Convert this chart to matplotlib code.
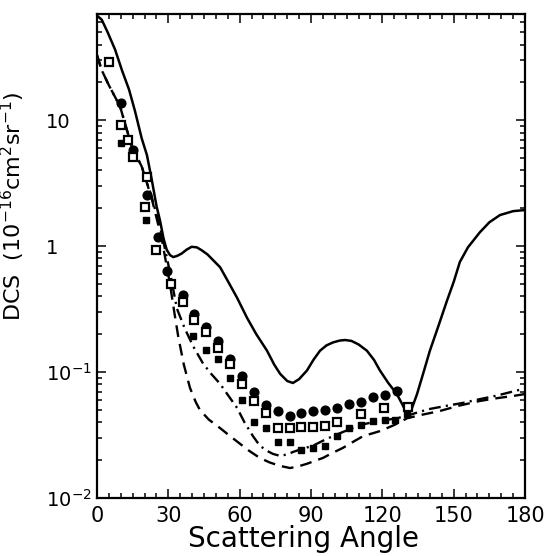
import matplotlib
matplotlib.use("Agg")
import matplotlib.pyplot as plt
from matplotlib.ticker import FixedLocator, MultipleLocator, LogLocator, NullFormatter

plt.rcParams['font.family'] = ['DejaVu Sans']
plt.rcParams['mathtext.fontset'] = 'dejavusans'

# ---- data ----
solid_x = [0, 2, 4.5, 7.6, 10.5, 13.5, 16, 18.8, 21, 23, 25, 26.5, 28, 29.3, 30.7, 32.1,
           33.8, 35.6, 37.7, 39.8, 42, 44, 46.5, 49, 51.8, 55, 58.9, 63.1, 67, 71.5, 74.5,
           77, 80, 82.4, 85, 88.3, 91, 93.8, 96.5, 99.2, 102, 104.3, 107, 110, 113.5, 116.5,
           119, 122.5, 126.1, 128.5, 130.8, 132.5, 134.6, 137, 140, 143.5, 147.2, 150,
           152.6, 156, 161, 165, 169.5, 175, 180]
solid_y = [68, 63, 50, 36.5, 25, 17.5, 11.8, 7.2, 5.3, 3.4, 2.1, 1.6, 1.15, 0.94, 0.85,
           0.82, 0.84, 0.875, 0.94, 0.99, 0.98, 0.93, 0.86, 0.77, 0.68, 0.53, 0.39, 0.27,
           0.2, 0.148, 0.115, 0.097, 0.085, 0.082, 0.088, 0.103, 0.125, 0.148, 0.163, 0.172,
           0.178, 0.18, 0.177, 0.166, 0.148, 0.125, 0.103, 0.082, 0.067, 0.055, 0.045,
           0.052, 0.067, 0.095, 0.148, 0.23, 0.37, 0.52, 0.75, 0.98, 1.29, 1.55, 1.77,
           1.9, 1.94]

dashdot_x = [0, 2, 5, 9.7, 14.6, 18.8, 23.0, 27.2, 30.7, 33.6, 37.0, 40.5, 44.6, 48, 51.7,
             55, 58.9, 62, 65.6, 68.5, 71.5, 74, 77.0, 80, 82.4, 86, 90.8, 95, 99.2, 103.5,
             107.7, 112, 116.0, 121, 126.0, 130.5, 135, 140.0, 147, 154.0, 161, 168.0,
             176.0, 180.0]
dashdot_y = [33, 25, 19, 12.9, 6.2, 4.3, 2.47, 1.26, 0.62, 0.32, 0.22, 0.16, 0.117, 0.097,
             0.081, 0.066, 0.052, 0.040, 0.031, 0.026, 0.0237, 0.0224, 0.0216, 0.0222,
             0.0232, 0.0245, 0.026, 0.0285, 0.031, 0.0335, 0.036, 0.0385, 0.040, 0.0415,
             0.043, 0.045, 0.048, 0.051, 0.054, 0.057, 0.061, 0.065, 0.071, 0.074]

dashed_x = [0, 2, 5, 9.7, 14.6, 18.8, 23.0, 27.2, 30.7, 32.5, 34.2, 36.5, 39.1, 41.5, 43.3,
            47, 51.7, 56, 60.1, 64, 68.5, 72.5, 76.9, 81.2, 84.5, 88.3, 91.5, 95.0, 99,
            103.4, 107.5, 111.9, 119.0, 125, 130.4, 137, 144.0, 152, 161.0, 168, 175.8, 180.0]
dashed_y = [33, 25, 19, 12.9, 6.2, 4.3, 2.4, 1.15, 0.5, 0.3, 0.19, 0.115, 0.075, 0.058,
            0.05, 0.042, 0.036, 0.031, 0.027, 0.0237, 0.0208, 0.0192, 0.018, 0.0173, 0.0178,
            0.0187, 0.0197, 0.0208, 0.0228, 0.025, 0.0278, 0.031, 0.034, 0.038, 0.043,
            0.046, 0.049, 0.054, 0.059, 0.062, 0.065, 0.067]

circle_x = [10, 15, 21, 25.5, 29.5, 36, 41, 46, 51, 56, 61, 66, 71, 76, 81, 86, 91, 96,
            101, 106, 111, 116, 121, 126]
circle_y = [13.7, 5.8, 2.55, 1.19, 0.64, 0.41, 0.29, 0.23, 0.176, 0.127, 0.094, 0.070,
            0.055, 0.049, 0.045, 0.047, 0.049, 0.050, 0.052, 0.056, 0.058, 0.063, 0.066, 0.071]

opensq_x = [5, 10, 13, 15, 21, 20, 25, 31, 36, 41, 46, 51, 56, 61, 66, 71, 76, 81, 86, 91,
            96, 101, 111, 120.5, 131]
opensq_y = [28.9, 9.2, 7.0, 5.15, 3.57, 2.06, 0.93, 0.50, 0.36, 0.26, 0.21, 0.156, 0.117,
            0.081, 0.059, 0.047, 0.036, 0.036, 0.0365, 0.0365, 0.0375, 0.040, 0.0465, 0.052,
            0.053]

fillsq_x = [10, 20.5, 40.5, 46, 51, 56, 61, 66, 71, 76, 81, 86, 91, 96, 101, 106, 111,
            116, 121, 125.5, 130.5]
fillsq_y = [6.65, 1.61, 0.195, 0.151, 0.126, 0.089, 0.060, 0.040, 0.0357, 0.0279, 0.0279,
            0.0241, 0.025, 0.026, 0.031, 0.036, 0.038, 0.041, 0.042, 0.042, 0.0465]

xticks = [0, 30, 60, 90, 120, 150, 180]
yticks = [0.01, 0.1, 1, 10]
yticklabels = [r'$10^{-2}$', r'$10^{-1}$', '1', '10']

# ---- figure ----
fig = plt.figure(figsize=(5.49, 5.56), dpi=100)
ax = fig.add_axes([97/549, 1 - 498/556, 428/549, 484/556])

ax.plot(solid_x, solid_y, color='black', lw=1.8, solid_joinstyle='round', zorder=2)
ax.plot(dashdot_x, dashdot_y, color='black', lw=1.7, dashes=(5.0, 2.2, 0.9, 2.2), zorder=2)
ax.plot(dashed_x, dashed_y, color='black', lw=1.7, dashes=(5.0, 3.0), zorder=2)

ax.plot(circle_x, circle_y, 'o', color='black', ms=6.3, zorder=4)
ax.plot(opensq_x, opensq_y, 's', mfc='white', mec='black', mew=1.6, ms=5.5, zorder=5)
ax.plot(fillsq_x, fillsq_y, 's', color='black', ms=4.5, zorder=4)

ax.set_yscale('log')
ax.set_xlim(0, 180)
ax.set_ylim(0.01, 70)

ax.xaxis.set_major_locator(FixedLocator(xticks))
ax.xaxis.set_minor_locator(MultipleLocator(5))
ax.set_xticklabels([str(t) for t in xticks])
ax.yaxis.set_major_locator(FixedLocator(yticks))
ax.yaxis.set_minor_locator(LogLocator(base=10, subs=range(2, 10)))
ax.yaxis.set_minor_formatter(NullFormatter())
ax.set_yticklabels(yticklabels)

ax.tick_params(which='both', direction='in', top=True, right=True, width=1.1, color='black')
ax.tick_params(which='major', length=6.5)
ax.tick_params(which='minor', length=3.5)
ax.tick_params(axis='x', which='major', labelsize=15, pad=6)
ax.tick_params(axis='y', which='major', labelsize=14, pad=37)
for lab in ax.get_yticklabels():
    lab.set_horizontalalignment('left')

for sp in ax.spines.values():
    sp.set_linewidth(1.6)

ax.set_xlabel('Scattering Angle', fontsize=20)
ax.xaxis.set_label_coords((303 - 97) / 428, (497 - 524) / 484)

ax.set_ylabel(r'DCS  $(10^{-16}\mathrm{cm}^{2}\mathrm{sr}^{-1})$', fontsize=16)
ax.yaxis.set_label_coords((27 - 97) / 428, (497 - 205) / 484)

fig.savefig('out.png', dpi=100)
